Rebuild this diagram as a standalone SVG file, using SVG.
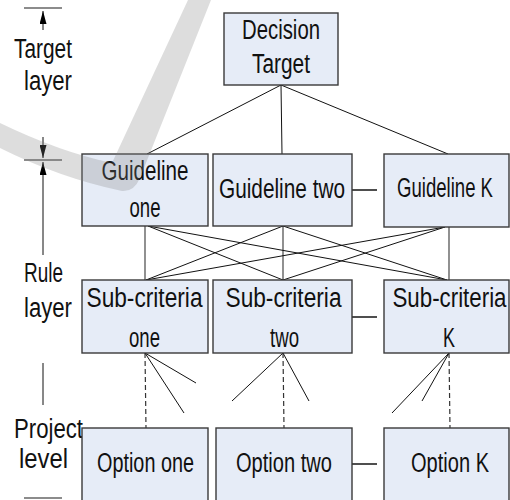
<svg xmlns="http://www.w3.org/2000/svg" width="510" height="500" viewBox="0 0 510 500">
<defs>
<style>
.box{fill:#e6ecf7;stroke:#3a3a3a;stroke-width:1.4}
.t{font-family:"Liberation Sans","DejaVu Sans",sans-serif;font-size:27px;fill:#111;text-anchor:middle}
.ln{stroke:#111;stroke-width:1;fill:none}
.vg{stroke:#555;stroke-width:1.3;fill:none}
.ds{stroke:#333;stroke-width:1.2;stroke-dasharray:5,3;fill:none}
.hl{stroke:#222;stroke-width:1.6;fill:none}
.mk{stroke:#666;stroke-width:1.4;fill:none}
</style>
<marker id="ah" viewBox="0 0 13 7" refX="13" refY="3.5" markerWidth="13" markerHeight="7" markerUnits="userSpaceOnUse" orient="auto">
<path d="M0,0 L13,3.5 L0,7 Z" fill="#000"/>
</marker>
</defs>
<rect width="510" height="500" fill="#fff"/>

<g id="scale">
<line class="mk" x1="24" y1="8" x2="62" y2="8"/>
<line class="ln" x1="43" y1="30" x2="43" y2="11" marker-end="url(#ah)"/>
<text class="t" x="43" y="58" textLength="58" lengthAdjust="spacingAndGlyphs">Target</text>
<text class="t" x="48" y="90" textLength="48" lengthAdjust="spacingAndGlyphs">layer</text>
<line class="ln" x1="43" y1="137" x2="43" y2="158" marker-end="url(#ah)"/>
<line class="mk" x1="24" y1="160" x2="62" y2="160"/>
<line class="ln" x1="43" y1="255" x2="43" y2="162" marker-end="url(#ah)"/>
<text class="t" x="43.5" y="282" textLength="39" lengthAdjust="spacingAndGlyphs">Rule</text>
<text class="t" x="48" y="317" textLength="48" lengthAdjust="spacingAndGlyphs">layer</text>
<line class="ln" x1="43" y1="363" x2="43" y2="405"/>
<text class="t" x="48.5" y="438" textLength="69" lengthAdjust="spacingAndGlyphs">Project</text>
<text class="t" x="43.5" y="468" textLength="49" lengthAdjust="spacingAndGlyphs">level</text>
<line class="mk" x1="24" y1="498" x2="62" y2="498"/>
</g>

<g id="connectors">
<line class="ln" x1="281" y1="85" x2="147" y2="154"/>
<line class="ln" x1="281" y1="85" x2="282" y2="154"/>
<line class="ln" x1="281" y1="85" x2="448" y2="154"/>
<line class="vg" x1="145" y1="226" x2="145" y2="280"/>
<line class="vg" x1="283" y1="226" x2="283" y2="280"/>
<line class="vg" x1="449" y1="227" x2="449" y2="280"/>
<line class="ln" x1="148" y1="226" x2="283" y2="280"/>
<line class="ln" x1="148" y1="226" x2="447" y2="280"/>
<line class="ln" x1="283" y1="226" x2="146" y2="280"/>
<line class="ln" x1="283" y1="226" x2="447" y2="280"/>
<line class="ln" x1="445" y1="227" x2="146" y2="280"/>
<line class="ln" x1="445" y1="227" x2="283" y2="280"/>
<line class="hl" x1="352" y1="190" x2="377" y2="190"/>
<line class="hl" x1="352" y1="317" x2="377" y2="317"/>
<line class="hl" x1="352" y1="464" x2="377" y2="464"/>
<line class="ds" x1="145" y1="353" x2="146" y2="428"/>
<line class="ln" x1="145" y1="353" x2="196" y2="383"/>
<line class="ln" x1="145" y1="353" x2="184" y2="413"/>
<line class="ds" x1="283" y1="353" x2="284" y2="428"/>
<line class="ln" x1="283" y1="353" x2="232" y2="401"/>
<line class="ln" x1="283" y1="353" x2="309" y2="401"/>
<line class="ds" x1="449" y1="353" x2="450" y2="428"/>
<line class="ln" x1="449" y1="353" x2="392" y2="413"/>
<line class="ln" x1="449" y1="353" x2="422" y2="401"/>
</g>

<g id="decision">
<rect class="box" x="224" y="13" width="114" height="72"/>
<text class="t" x="281" y="39" textLength="78" lengthAdjust="spacingAndGlyphs">Decision</text>
<text class="t" x="281" y="73" textLength="58" lengthAdjust="spacingAndGlyphs">Target</text>
</g>

<g id="guideline-one">
<rect class="box" x="82" y="154" width="126" height="72"/>
<text class="t" x="145" y="180" textLength="87" lengthAdjust="spacingAndGlyphs">Guideline</text>
<text class="t" x="145" y="217" textLength="31" lengthAdjust="spacingAndGlyphs">one</text>
</g>
<g id="guideline-two">
<rect class="box" x="213" y="154" width="139" height="72"/>
<text class="t" x="282" y="198" textLength="126" lengthAdjust="spacingAndGlyphs">Guideline two</text>
</g>
<g id="guideline-k">
<rect class="box" x="384" y="154" width="125" height="73"/>
<text class="t" x="445" y="197" textLength="96" lengthAdjust="spacingAndGlyphs">Guideline K</text>
</g>

<g id="sub-one">
<rect class="box" x="82" y="280" width="126" height="73"/>
<text class="t" x="144.5" y="307" textLength="116" lengthAdjust="spacingAndGlyphs">Sub-criteria</text>
<text class="t" x="144.5" y="347" textLength="31" lengthAdjust="spacingAndGlyphs">one</text>
</g>
<g id="sub-two">
<rect class="box" x="213" y="280" width="139" height="73"/>
<text class="t" x="283.5" y="307" textLength="116" lengthAdjust="spacingAndGlyphs">Sub-criteria</text>
<text class="t" x="284.5" y="347" textLength="29" lengthAdjust="spacingAndGlyphs">two</text>
</g>
<g id="sub-k">
<rect class="box" x="384" y="280" width="125" height="73"/>
<text class="t" x="449.5" y="307" textLength="114" lengthAdjust="spacingAndGlyphs">Sub-criteria</text>
<text class="t" x="449" y="347" textLength="12" lengthAdjust="spacingAndGlyphs">K</text>
</g>

<g id="option-one">
<rect class="box" x="82" y="428" width="126" height="80"/>
<text class="t" x="145.5" y="472" textLength="97" lengthAdjust="spacingAndGlyphs">Option one</text>
</g>
<g id="option-two">
<rect class="box" x="216" y="428" width="136" height="80"/>
<text class="t" x="284" y="472" textLength="96" lengthAdjust="spacingAndGlyphs">Option two</text>
</g>
<g id="option-k">
<rect class="box" x="384" y="428" width="125" height="80"/>
<text class="t" x="450" y="472" textLength="78" lengthAdjust="spacingAndGlyphs">Option K</text>
</g>

<path d="M188,0 L211,0 L140,178 Q134,192 122,191 Q60,178 0,148 L0,123 Q60,152 112,163 Z" fill="#808080" opacity="0.27"/>
</svg>
